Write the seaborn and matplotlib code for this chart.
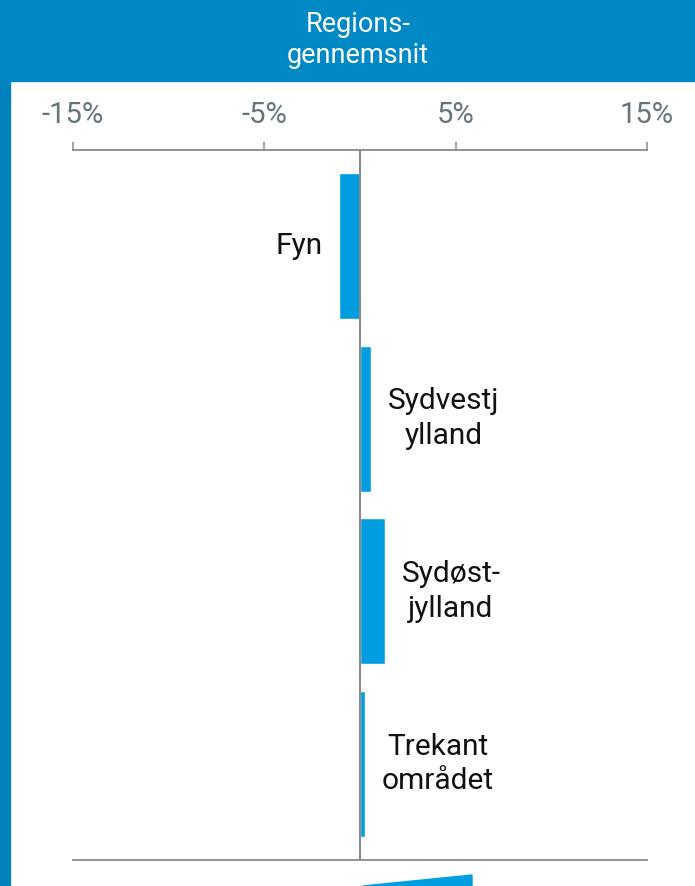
import pandas as pd
import seaborn as sns
import matplotlib.pyplot as plt
from matplotlib.patches import Rectangle, Polygon

# Data (percent vs. regional average)
regions = ['Fyn', 'Sydvestj\nylland', 'Sydøst-\njylland', 'Trekant\nområdet']
values = [-1.1, 0.6, 1.3, 0.25]
tick_values = [-15, -5, 5, 15]
tick_labels = ['-15%', '-5%', '5%', '15%']

header_text = 'Regions-\ngennemsnit'

bar_color = '#009ee0'
header_color = '#0089c4'
strip_color = '#0082bd'
axis_color = '#8a8a8a'
tick_color = '#66747b'

df = pd.DataFrame({'region': regions, 'value': values})

sns.set_theme(style='white')
plt.rcParams['font.family'] = ['Roboto', 'DejaVu Sans']

fig = plt.figure(figsize=(6.95, 8.86), dpi=100)
W, H = 695, 886

# axes placed in pixel terms of the reference
ax = fig.add_axes([73 / W, 26 / H, 574 / W, 710 / H])

sns.barplot(data=df, y='region', x='value', orient='h', color=bar_color,
            width=0.845, saturation=1, ax=ax)

ax.set_xlim(-15, 15)
ax.set_ylim(3.555, -0.556)
ax.set_xlabel('')
ax.set_ylabel('')
ax.set_yticks([])

ax.xaxis.tick_top()
ax.set_xticks(tick_values)
ax.set_xticklabels(tick_labels)
ax.tick_params(axis='x', which='both', top=True, bottom=False, direction='out',
               length=6, width=1.1, color=axis_color, pad=9,
               labelsize=21, labelcolor=tick_color)

for side in ['left', 'right']:
    ax.spines[side].set_visible(False)
for side in ['top', 'bottom']:
    ax.spines[side].set_visible(True)
    ax.spines[side].set_color(axis_color)
    ax.spines[side].set_linewidth(1.3)

ax.axvline(0, color=axis_color, lw=1.5, zorder=3)

# category labels next to the bar ends
for i, (name, v) in enumerate(zip(regions, values)):
    if v < 0:
        ax.annotate(name, xy=(v, i), xytext=(-12, 0), textcoords='offset points',
                    ha='right', va='center', fontsize=21.5, color='#111111',
                    multialignment='center', linespacing=1.3)
    else:
        ax.annotate(name, xy=(v, i), xytext=(12, 0), textcoords='offset points',
                    ha='left', va='center', fontsize=21.5, color='#111111',
                    multialignment='center', linespacing=1.3)

# header band and left strip
fig.patches.append(Rectangle((0, 1 - 81 / H), 1, 81 / H, transform=fig.transFigure,
                             color=header_color, zorder=0))
fig.patches.append(Rectangle((0, 0), 10 / W, 1 - 81 / H, transform=fig.transFigure,
                             color=strip_color, zorder=0))
fig.text(358 / W, 1 - 40 / H, header_text, ha='center', va='center', color='white',
         fontsize=19.5, linespacing=1.2)

# partial decorative shape at the bottom edge
fig.patches.append(Polygon([(363 / W, 0), (472 / W, 11 / H), (472 / W, 0)],
                           closed=True, transform=fig.transFigure, color=bar_color))

fig.savefig('out.png', dpi=100)
